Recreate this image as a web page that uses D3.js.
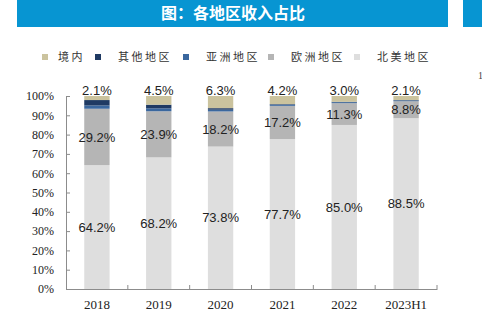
<!DOCTYPE html>
<html>
<head>
<meta charset="utf-8">
<script src="https://cdn.jsdelivr.net/npm/d3@7"></script>
<style>
    body { margin: 0; background: #fff; }
    svg { display: block; }
</style>
</head>
<body>
<svg id="chart" width="482" height="323"></svg>
<script>
// Data (percent of revenue)
const categories = ["2018", "2019", "2020", "2021", "2022", "2023H1"];
const seriesNames = ["北美地区", "欧洲地区", "亚洲地区", "其他地区", "境内"];
const northAmerica = [64.2, 68.2, 73.8, 77.7, 85.0, 88.5];
const europe = [29.2, 23.9, 18.2, 17.2, 11.3, 8.8];
const asia = [1.7, 1.5, 0.9, 0.6, 0.5, 0.4];
const other = [2.8, 1.9, 0.8, 0.3, 0.2, 0.2];
const domestic = [2.1, 4.5, 6.3, 4.2, 3.0, 2.1];
const yTicks = [0, 10, 20, 30, 40, 50, 60, 70, 80, 90, 100];
const legendOrder = ["境内", "其他地区", "亚洲地区", "欧洲地区", "北美地区"];

const colors = {
    "北美地区": "#dedede",
    "欧洲地区": "#b5b5b5",
    "亚洲地区": "#3a679e",
    "其他地区": "#1f3a63",
    "境内": "#cbc39e"
};

const seriesValues = {
    "北美地区": northAmerica,
    "欧洲地区": europe,
    "亚洲地区": asia,
    "其他地区": other,
    "境内": domestic
};

const table = categories.map((c, i) => {
    let row = {cat: c};
    seriesNames.forEach(s => row[s] = seriesValues[s][i]);
    return row;
});

const svg = d3.select("#chart");
const margin = {top: 96, right: 45, bottom: 34, left: 66};
const width = 482, height = 323;

// Title bar
svg.append("rect")
    .attr("x", 17).attr("y", 0)
    .attr("width", 431).attr("height", 27)
    .attr("fill", "#0795d2");
svg.append("rect")
    .attr("x", 463).attr("y", 0)
    .attr("width", 19).attr("height", 27)
    .attr("fill", "#0795d2");
svg.append("text")
    .attr("x", 233).attr("y", 19)
    .attr("text-anchor", "middle")
    .attr("fill", "#fff")
    .style("font-family", "'Noto Sans CJK SC', sans-serif")
    .style("font-weight", "bold")
    .style("font-size", "16px")
    .text("图：各地区收入占比");

// stray page-number fragment at the right edge
svg.append("text")
    .attr("x", 478).attr("y", 79)
    .attr("fill", "#444")
    .style("font-family", "'Liberation Serif', serif")
    .style("font-size", "10px")
    .text("1");

// Legend
const legendX = [42, 95, 183, 268, 354];
const legend = svg.append("g").attr("class", "legend");
legendOrder.forEach((name, i) => {
    legend.append("rect")
        .attr("x", legendX[i]).attr("y", 54)
        .attr("width", 6).attr("height", 6)
        .attr("fill", colors[name]);
    legend.append("text")
        .attr("x", legendX[i] + (i == 0 ? 16 : 23)).attr("y", 61)
        .attr("fill", "#333")
        .style("font-family", "'Noto Sans CJK SC', sans-serif")
        .style("font-size", "11px")
        .style("letter-spacing", "2.5px")
        .text(name);
});

// Scales
const x = d3.scaleBand()
    .domain(categories)
    .range([margin.left, 437]);
const y = d3.scaleLinear()
    .domain([0, 100])
    .range([289, 96]);

const barWidth = x.bandwidth() * 0.41;

const stack = d3.stack().keys(seriesNames);
const stacked = stack(table);

// Bars
const layers = svg.append("g")
    .selectAll("g")
    .data(stacked)
    .enter()
    .append("g")
    .attr("fill", d => colors[d.key]);

layers.selectAll("rect")
    .data(d => d)
    .enter()
    .append("rect")
    .attr("x", d => x(d.data.cat) + x.bandwidth() / 2 - barWidth / 2)
    .attr("y", d => y(d[1]))
    .attr("width", barWidth)
    .attr("height", d => y(d[0]) - y(d[1]));

// Axes
const axisColor = "#8c8c8c";

const yAxis = svg.append("g")
    .attr("transform", `translate(${margin.left},0)`)
    .call(d3.axisLeft(y)
        .tickValues(yTicks)
        .tickSize(-4)
        .tickPadding(12)
        .tickFormat(d => d + "%"));
yAxis.selectAll("path, line").attr("stroke", axisColor);
yAxis.selectAll("text")
    .attr("fill", "#222")
    .style("font-family", "'Liberation Serif', serif")
    .style("font-size", "12px");

const xAxis = svg.append("g")
    .attr("transform", `translate(0,${y(0)})`)
    .call(d3.axisBottom(x).tickSize(0).tickPadding(11));
xAxis.select(".domain").attr("stroke", axisColor);
xAxis.selectAll("text")
    .attr("fill", "#222")
    .style("font-family", "'Liberation Serif', serif")
    .style("font-size", "13px");

// category divider ticks (pointing up into the plot)
const boundaries = categories.map(c => x(c) + x.bandwidth());
svg.append("g")
    .selectAll("line")
    .data(boundaries)
    .enter()
    .append("line")
    .attr("x1", d => d).attr("x2", d => d)
    .attr("y1", y(0)).attr("y2", y(0) - 4)
    .attr("stroke", axisColor);

// Value labels
const labelFont = "'Liberation Sans', Arial, sans-serif";
const labelSeries = ["北美地区", "欧洲地区"];
const labels = svg.append("g");

stacked.filter(s => labelSeries.includes(s.key)).forEach(s => {
    labels.selectAll(null)
        .data(s)
        .enter()
        .append("text")
        .attr("x", d => x(d.data.cat) + x.bandwidth() / 2)
        .attr("y", d => (y(d[0]) + y(d[1])) / 2)
        .attr("dy", "0.36em")
        .attr("text-anchor", "middle")
        .attr("fill", "#222")
        .style("font-family", labelFont)
        .style("font-size", "13px")
        .text(d => (d[1] - d[0]).toFixed(1) + "%");
});

// 境内 labels above bars
labels.selectAll(null)
    .data(table)
    .enter()
    .append("text")
    .attr("x", d => x(d.cat) + x.bandwidth() / 2)
    .attr("y", y(100) - 1.5)
    .attr("text-anchor", "middle")
    .attr("fill", "#222")
    .style("font-family", labelFont)
    .style("font-size", "13px")
    .text(d => d["境内"].toFixed(1) + "%");
</script>
</body>
</html>
